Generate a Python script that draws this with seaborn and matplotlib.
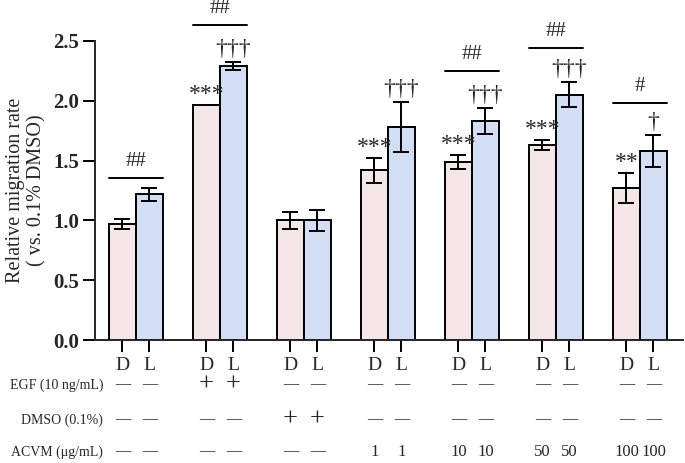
import matplotlib
matplotlib.use("Agg")
import matplotlib.pyplot as plt
import seaborn as sns
import numpy as np
import pandas as pd

groups = ["G1", "G2", "G3", "G4", "G5", "G6", "G7"]
conds = ["D", "L"]
d_vals = [0.97, 1.965, 1.00, 1.42, 1.49, 1.63, 1.27]
d_err = [0.045, 0.0, 0.07, 0.105, 0.06, 0.04, 0.125]
l_vals = [1.22, 2.29, 1.00, 1.78, 1.83, 2.05, 1.58]
l_err = [0.055, 0.035, 0.09, 0.21, 0.11, 0.105, 0.13]
d_sig = ["", "***", "", "***", "***", "***", "**"]
l_sig = ["", "†††", "", "†††", "†††", "†††", "†"]
hash_sig = ["##", "##", "", "", "##", "##", "#"]
hash_y = [1.355, 2.63, None, None, 2.25, 2.44, 1.98]
egf_row = ["—", "—", "+", "+", "—", "—", "—", "—", "—", "—", "—", "—", "—", "—"]
dmso_row = ["—", "—", "—", "—", "+", "+", "—", "—", "—", "—", "—", "—", "—", "—"]
acvm_row = ["—", "—", "—", "—", "—", "—", "1", "1", "10", "10", "50", "50", "100", "100"]
row_names = ["EGF (10 ng/mL)", "DMSO (0.1%)", "ACVM (μg/mL)"]

sns.set_style("ticks")
plt.rcParams["font.family"] = ["Liberation Serif", "DejaVu Serif"]

df = pd.DataFrame({
    "group": groups * 2,
    "cond": ["D"] * 7 + ["L"] * 7,
    "value": d_vals + l_vals,
})

fig = plt.figure(figsize=(6.85, 4.63), dpi=100)
ax = fig.add_axes([95 / 685, (463 - 340) / 463, (683 - 95) / 685, (340 - 41) / 463])

sns.barplot(data=df, x="group", y="value", hue="cond", order=groups, hue_order=conds,
            palette={"D": "#F6E4E8", "L": "#CCDCFA"}, width=0.643, errorbar=None,
            edgecolor="black", linewidth=1.4, ax=ax, legend=False)

patches = [p for p in ax.patches if p.get_height() > 0]
patches = sorted(patches, key=lambda p: p.get_x())
centers = [p.get_x() + p.get_width() / 2 for p in patches]
heights = [p.get_height() for p in patches]
errs = []
sigs = []
for i in range(7):
    errs += [d_err[i], l_err[i]]
    sigs += [d_sig[i], l_sig[i]]

for x, h, e in zip(centers, heights, errs):
    if e > 0:
        ax.errorbar(x, h, yerr=e, fmt="none", ecolor="black", elinewidth=1.4,
                    capsize=5.8, capthick=1.4, zorder=5)

for x, h, e, s in zip(centers, heights, errs, sigs):
    if s:
        if "*" in s:
            ax.text(x, h + e + 0.0, s, ha="center", va="bottom", fontsize=17,
                    clip_on=False)
        else:
            ax.text(x, h + e + 0.02, s, ha="center", va="bottom", fontsize=17,
                    clip_on=False)

for i in range(7):
    if hash_sig[i]:
        gc = (centers[2 * i] + centers[2 * i + 1]) / 2
        x0 = gc - 0.32
        x1 = gc + 0.32
        ax.plot([x0, x1], [hash_y[i], hash_y[i]], color="black", lw=1.4, clip_on=False)
        ax.text(gc, hash_y[i] + 0.06, hash_sig[i], ha="center", va="bottom",
                fontsize=15, clip_on=False)

ax.set_ylim(0, 2.5)
ax.set_xlim(-0.488, 6.512)
ax.set_yticks([0.0, 0.5, 1.0, 1.5, 2.0, 2.5])
ax.set_yticklabels(["0.0", "0.5", "1.0", "1.5", "2.0", "2.5"], fontsize=15, fontweight="bold")
ax.set_xticks(centers)
ax.set_xticklabels(["D", "L"] * 7, fontsize=14)
ax.tick_params(axis="both", direction="out", length=8.5, width=1.4, color="black")
ax.tick_params(axis="x", pad=4)
ax.tick_params(axis="y", pad=3)
for sp in ["top", "right"]:
    ax.spines[sp].set_visible(False)
ax.spines["left"].set_linewidth(1.4)
ax.spines["bottom"].set_linewidth(1.4)
ax.set_xlabel("")
ax.set_ylabel("Relative migration rate\n( vs. 0.1% DMSO)", fontsize=14.5, labelpad=5,
              linespacing=1.15)

trans = ax.get_xaxis_transform()
row_y = [(340 - 385) / 299, (340 - 420) / 299, (340 - 452) / 299]
rows = [egf_row, dmso_row, acvm_row]
for r, yy, name in zip(rows, row_y, row_names):
    fig.text(103 / 685, 1 - (340 - yy * 299) / 463, name, ha="right", va="center", fontsize=10)
    for x, s in zip(centers, r):
        if s.isdigit():
            fs = 12
        elif s == "+":
            fs = 19
        else:
            fs = 11
        ax.text(x, yy, s, transform=trans, ha="center", va="center", fontsize=fs, clip_on=False)

fig.savefig("out.png", dpi=100)
